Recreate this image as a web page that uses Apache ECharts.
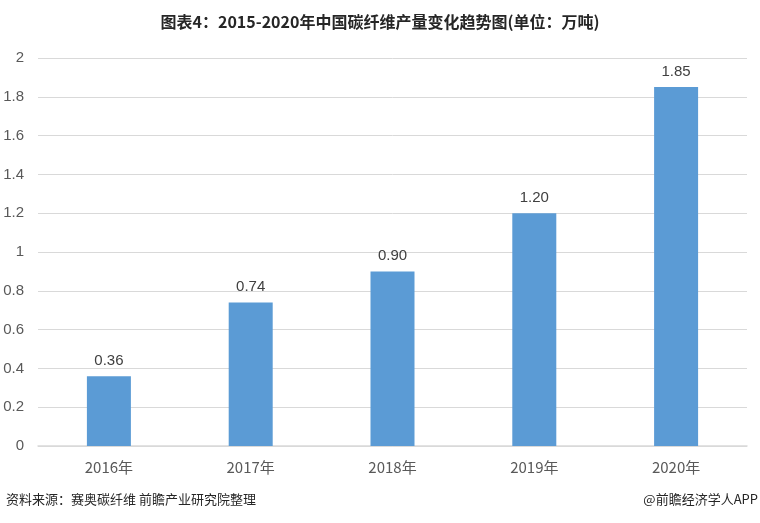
<!DOCTYPE html>
<html>
<head>
<meta charset="utf-8">
<title>2015-2020年中国碳纤维产量变化趋势图</title>
<script src="https://cdn.jsdelivr.net/npm/echarts@6/dist/echarts.min.js"></script>
<style>
  html, body { margin: 0; padding: 0; background: #fff; }
  #chart { width: 760px; height: 523px; }
</style>
</head>
<body>
<div id="chart"></div>
<script>
// 数据
const years = ['2016年', '2017年', '2018年', '2019年', '2020年']
const output = [0.36, 0.74, 0.90, 1.20, 1.85]
const yTicks = [0, 0.2, 0.4, 0.6, 0.8, 1, 1.2, 1.4, 1.6, 1.8, 2]

const fontCN = '"Noto Sans CJK SC", "Liberation Sans", sans-serif'

const chart = echarts.init(document.getElementById('chart'))

const option = {
  backgroundColor: '#fff',
  animation: false,
  title: {
    text: '图表4：2015-2020年中国碳纤维产量变化趋势图(单位：万吨)',
    left: 'center',
    top: 9,
    textStyle: {
      fontFamily: '"Liberation Sans Narrow", "Noto Sans CJK SC", sans-serif',
      fontSize: 16,
      fontWeight: 'bold',
      color: '#262626'
    }
  },
  graphic: [
    {
      type: 'text',
      left: 6,
      top: 493,
      style: {
        text: '资料来源：赛奥碳纤维 前瞻产业研究院整理',
        font: '13px ' + fontCN,
        fill: '#262626'
      }
    },
    {
      type: 'text',
      right: 2,
      top: 493,
      style: {
        text: '@前瞻经济学人APP',
        font: '13px ' + fontCN,
        fill: '#262626'
      }
    }
  ],
  grid: {
    left: 38,
    right: 13,
    top: 58,
    bottom: 77
  },
  xAxis: {
    type: 'category',
    data: years,
    axisLine: { lineStyle: { color: '#d9d9d9', width: 1.5 } },
    axisTick: { show: false },
    axisLabel: {
      color: '#595959',
      fontSize: 15,
      margin: 14,
      fontFamily: '"Liberation Sans Narrow", "Noto Sans CJK SC", sans-serif'
    }
  },
  yAxis: {
    type: 'value',
    min: 0,
    max: 2,
    interval: 0.2,
    axisLine: { show: false },
    axisTick: { show: false },
    splitLine: { lineStyle: { color: '#d9d9d9' } },
    axisLabel: {
      color: '#595959',
      fontSize: 15,
      margin: 14,
      fontFamily: '"Liberation Sans", sans-serif',
      formatter: v => {
        const t = yTicks.find(x => Math.abs(x - v) < 1e-9)
        return t === undefined ? '' : String(t)
      }
    }
  },
  series: [
    {
      type: 'bar',
      data: output,
      barWidth: 44,
      itemStyle: { color: '#5b9bd5' },
      label: {
        show: true,
        position: 'top',
        distance: 8,
        color: '#404040',
        fontSize: 15,
        fontFamily: '"Liberation Sans", sans-serif',
        formatter: p => p.value.toFixed(2)
      }
    }
  ]
}

chart.setOption(option)
</script>
</body>
</html>
